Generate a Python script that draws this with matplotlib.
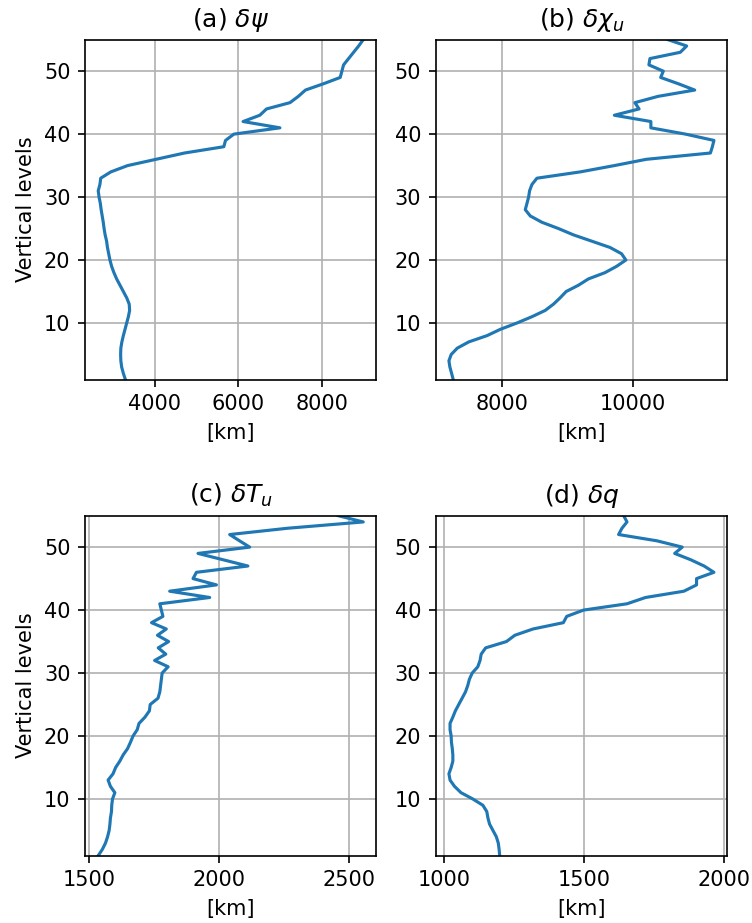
import numpy as np
import matplotlib
matplotlib.use("Agg")
import matplotlib.pyplot as plt

# 鉛直レベル 1..55
levels = np.arange(1, 56)

# (a) delta psi
psi = [3300, 3250, 3210, 3190, 3185, 3190, 3215, 3250, 3290, 3330,
       3370, 3400, 3390, 3330, 3250, 3170, 3090, 3025, 2970, 2930,
       2900, 2870, 2850, 2815, 2790, 2770, 2745, 2720, 2700, 2670,
       2650, 2690, 2710, 2950, 3350, 4030, 4710, 5650, 5690, 5890,
       6990, 6110, 6510, 6670, 7230, 7430, 7600, 8030, 8430, 8470,
       8510, 8630, 8750, 8870, 8980]

# (b) delta chi_u
chi = [7259, 7234, 7208, 7193, 7228, 7320, 7497, 7777, 7980, 8233,
       8462, 8665, 8792, 8893, 8985, 9173, 9325, 9579, 9756, 9898,
       9832, 9655, 9376, 9096, 8868, 8614, 8437, 8360, 8386, 8411,
       8426, 8462, 8538, 9200, 9720, 10210, 11190, 11220, 11244, 10810,
       10280, 10280, 9722, 10100, 10036, 10390, 10950, 10700, 10430, 10470,
       10250, 10266, 10730, 10827, 10543]

# (c) delta T_u
tu = [1535, 1551, 1563, 1571, 1577, 1580, 1582, 1586, 1587, 1590,
      1599, 1582, 1573, 1592, 1602, 1618, 1631, 1648, 1659, 1669,
      1685, 1692, 1715, 1732, 1735, 1765, 1772, 1775, 1778, 1781,
      1804, 1752, 1795, 1766, 1806, 1763, 1797, 1740, 1784, 1778,
      1772, 1964, 1810, 1990, 1900, 1913, 2111, 2015, 1919, 2118,
      2079, 2041, 2264, 2555, 2458]

# (d) delta q
q = [1199, 1197, 1194, 1187, 1175, 1163, 1157, 1153, 1139, 1103,
     1061, 1038, 1022, 1018, 1026, 1032, 1032, 1030, 1027, 1026,
     1022, 1022, 1032, 1041, 1053, 1065, 1077, 1085, 1091, 1101,
     1121, 1129, 1133, 1149, 1223, 1253, 1318, 1426, 1438, 1498,
     1653, 1719, 1856, 1901, 1901, 1963, 1928, 1880, 1823, 1850,
     1760, 1623, 1635, 1653, 1641]

titles = [r"(a) $\delta\psi$", r"(b) $\delta\chi_u$",
          r"(c) $\delta T_u$", r"(d) $\delta q$"]
series = [psi, chi, tu, q]

fig, axes = plt.subplots(2, 2, figsize=(752 / 150, 923 / 150), dpi=150)
plt.subplots_adjust(left=0.113, right=0.967, top=0.957, bottom=0.073,
                    wspace=0.203, hspace=0.40)

for i, ax in enumerate(axes.flat):
    ax.plot(series[i], levels)
    ax.set_title(titles[i])
    ax.set_xlabel("[km]")
    if i % 2 == 0:
        ax.set_ylabel("Vertical levels")
    ax.set_ylim(1, 55)
    ax.grid(True)

plt.savefig("out.png")
